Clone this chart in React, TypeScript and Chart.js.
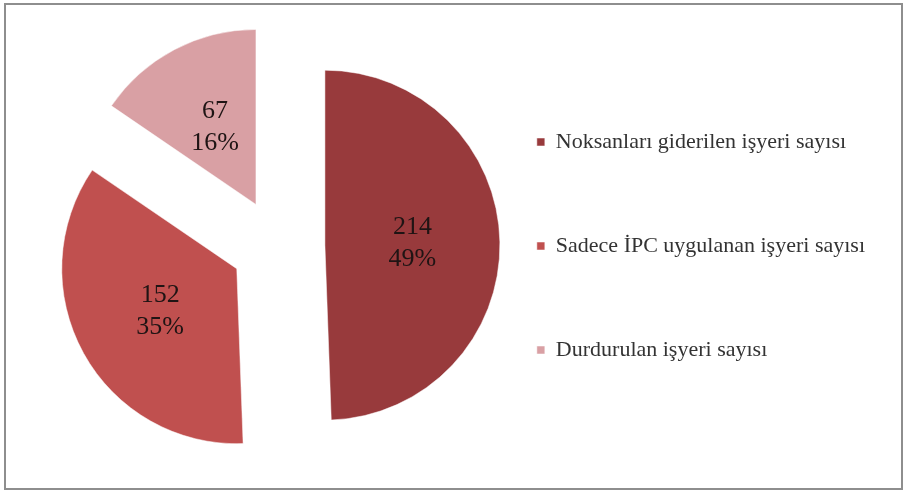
import React, { useEffect, useRef } from "react";
import { Chart, registerables } from "chart.js";

Chart.register(...registerables);

const categories = [
  "Noksanları giderilen işyeri sayısı",
  "Sadece İPC uygulanan işyeri sayısı",
  "Durdurulan işyeri sayısı",
];
const counts = [214, 152, 67];
const percentLabels = ["49%", "35%", "16%"];
const sliceColors = ["#983A3C", "#C0504F", "#D9A0A4"];

const PIE_RADIUS = 175;
const SLICE_OFFSET = 47; // visible explode distance in px

// Chart.js enlarges the radius of exploded arcs and trims their outer angles;
// undo both so every slice keeps the same radius and its exact angular span.
const arcFixPlugin = {
  id: "arcFix",
  afterDatasetsUpdate(chart: any) {
    const meta = chart.getDatasetMeta(0);
    meta.data.forEach((arc: any) => {
      const circ = arc.circumference || 0;
      const fix = 1 - Math.sin(Math.min(Math.PI, circ));
      const radiusOffset = SLICE_OFFSET * fix;
      arc.outerRadius = PIE_RADIUS - radiusOffset;
      const delta = radiusOffset / (2 * Math.PI * PIE_RADIUS);
      arc.startAngle = arc.startAngle - delta;
      arc.endAngle = arc.endAngle + delta;
    });
  },
};

const labelPlugin = {
  id: "sliceLabels",
  afterDatasetsDraw(chart: any) {
    const meta = chart.getDatasetMeta(0);
    const ctx = chart.ctx;
    ctx.save();
    ctx.font = "26px 'Liberation Serif', 'Times New Roman', serif";
    ctx.fillStyle = "#1f1414";
    ctx.textAlign = "center";
    ctx.textBaseline = "middle";
    meta.data.forEach((arc: any, i: number) => {
      const p = arc.getProps(["x", "y", "startAngle", "endAngle"], true);
      const mid = (p.startAngle + p.endAngle) / 2;
      const d = SLICE_OFFSET + PIE_RADIUS * 0.5;
      const cx = p.x + Math.cos(mid) * d;
      const cy = p.y + Math.sin(mid) * d;
      ctx.fillText(String(counts[i]), cx, cy - 16);
      ctx.fillText(percentLabels[i], cx, cy + 16);
    });
    ctx.restore();
  },
};

export default function App() {
  const ref = useRef<HTMLCanvasElement | null>(null);
  useEffect(() => {
    if (!ref.current) return;
    const chart = new Chart(ref.current, {
      type: "pie",
      data: {
        labels: categories,
        datasets: [
          {
            data: counts,
            backgroundColor: sliceColors,
            borderColor: "rgba(255,255,255,0.5)",
            borderWidth: 1,
            offset: SLICE_OFFSET * 4,
            clip: false as any,
          } as any,
        ],
      },
      options: {
        responsive: false,
        animation: false,
        radius: PIE_RADIUS,
        layout: { padding: { left: 101, right: 30, top: 2, bottom: 4 } },
        plugins: {
          tooltip: { enabled: false },
          legend: {
            position: "right",
            align: "center",
            maxWidth: 500,
            labels: {
              boxWidth: 8,
              boxHeight: 8,
              padding: 82,
              color: "#333333",
              font: { family: "'Liberation Serif', 'Times New Roman', serif", size: 22 },
            },
          },
        },
      } as any,
      plugins: [arcFixPlugin, labelPlugin],
    });
    return () => chart.destroy();
  }, []);
  return (
    <div style={{ position: "absolute", left: 0, top: 0, width: 905, height: 494, background: "#fff" }}>
      <div
        style={{
          position: "absolute",
          left: 4,
          top: 3,
          width: 895,
          height: 483,
          border: "2px solid #8e8e8e",
          boxSizing: "content-box",
        }}
      />
      <canvas ref={ref} width={905} height={494} style={{ position: "absolute", left: 0, top: 0 }} />
    </div>
  );
}
